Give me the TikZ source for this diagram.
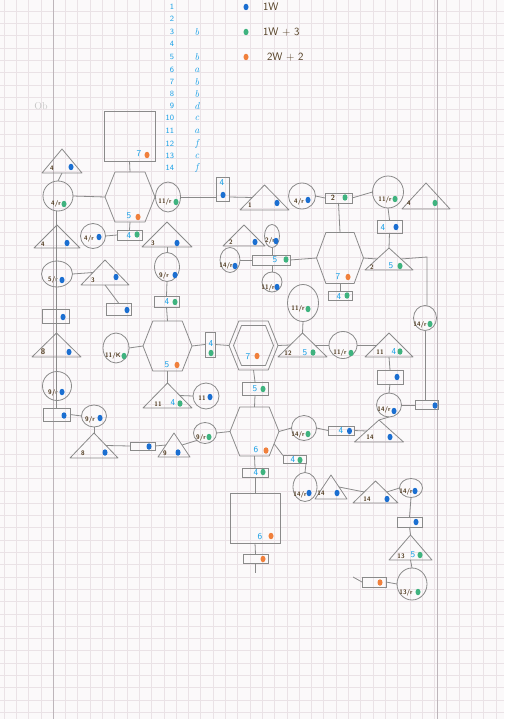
\documentclass[tikz,border=0pt]{standalone}
\usepackage{fontspec}
\usetikzlibrary{shapes.geometric,calc}
\definecolor{paper}{HTML}{FBF9FA}
\definecolor{gridc}{HTML}{EAE2E6}
\definecolor{marginc}{HTML}{BDB5BA}
\definecolor{pencilc}{HTML}{8A8A8A}
\definecolor{bluet}{HTML}{1AA0E6}
\definecolor{browntc}{HTML}{4F3A1E}
\definecolor{bdotc}{HTML}{1B6FD1}
\definecolor{gdotc}{HTML}{3FB37F}
\definecolor{odotc}{HTML}{F0803C}
\begin{document}
\begin{tikzpicture}[x=1pt,y=-1pt,
  pencil/.style={draw=pencilc, line width=0.8pt},
  nb/.style={inner sep=0pt, outer sep=0pt},
  box/.style={nb, rectangle, pencil},
  circ/.style={nb, ellipse, pencil},
  tri/.style={nb, append after command={\pgfextra{\let\LN\tikzlastnode
     \draw[pencil,line join=round] (\LN.north) -- (\LN.south east) -- (\LN.south west) -- cycle;}}},
  hexa/.style={nb, append after command={\pgfextra{\let\LN\tikzlastnode
     \draw[pencil,line join=round] (\LN.west) -- ($(\LN.north)!0.6!(\LN.north west)$) -- ($(\LN.north)!0.6!(\LN.north east)$) -- (\LN.east) -- ($(\LN.south)!0.6!(\LN.south east)$) -- ($(\LN.south)!0.6!(\LN.south west)$) -- cycle;}}},
  con/.style={pencil},
  gridl/.style={draw=gridc, line width=0.4pt},
  marg/.style={draw=marginc, line width=0.6pt},
  bt/.style={nb, text=bluet, font=\sffamily\fontsize{9}{9}\selectfont},
  bn/.style={nb, text=browntc, font=\sffamily\bfseries\fontsize{6.5}{6.5}\selectfont},
  lt/.style={nb, text=bluet, font=\itshape\fontsize{10}{10}\selectfont},
  kt/.style={nb, anchor=west, text=browntc, font=\sffamily\fontsize{11}{11}\selectfont},
  bd/.style={nb, ellipse, fill=bdotc, minimum width=5pt, minimum height=6.5pt},
  gd/.style={bd, fill=gdotc},
  od/.style={bd, fill=odotc},
]
\fill[paper] (0,0) rectangle (504,719);
\useasboundingbox (0,0) rectangle (504,719);
\foreach \i in {0,...,40} \draw[gridl] ({3.8+12.3*\i},0) -- ({3.8+12.3*\i},719);
\foreach \j in {0,...,58} \draw[gridl] (0,{11+12.3*\j}) -- (504,{11+12.3*\j});
\draw[marg] (53,0) -- (53,719);
\draw[marg] (437,0) -- (437,719);

% legend
\foreach \n/\yy in {1/7,2/19,3/32,4/44,5/57,6/70,7/82,8/94,9/106,10/118,11/131,12/144,13/156,14/168}
  \node[bt, anchor=east, font=\sffamily\fontsize{8}{8}\selectfont] (num\n) at (174,\yy) {\n};
\foreach \n/\yy/\l in {3/32/b,5/57/b,6/70/a,7/82/b,8/94/b,9/106/d,10/118/c,11/131/a,12/144/f,13/156/c,14/168/f}
  \node[lt] (let\n) at (197,\yy) {\l};
\node[bd] (key1) at (246,7) {};
\node[gd] (key2) at (246,32) {};
\node[od] (key3) at (246,57) {};
\node[kt] (keyt1) at (263,7) {1W};
\node[kt] (keyt2) at (263,32) {1W + 3};
\node[kt] (keyt3) at (267,57) {2W + 2};
\node[nb, text=gray!45, font=\fontsize{10}{10}\selectfont] (ob) at (41,106) {Ob};

% top-left cluster
\node[box, minimum width=51, minimum height=50] (s1) at (129.5,136) {};
\node[bt] (s1n) at (139,154) {7}; \node[od] (s1d) at (147,155) {};
\node[hexa, minimum width=50, minimum height=50] (h1) at (130,197) {};
\node[bt] (h1n) at (129,216) {5}; \node[od] (h1d) at (138,217) {};
\node[tri, minimum width=40, minimum height=24] (t1) at (62,161) {};
\node[bn] (t1n) at (52,168) {4}; \node[bd] (t1d) at (71,167) {};
\node[circ, minimum width=30, minimum height=30] (c1) at (58,196) {};
\node[bn] (c1n) at (56,204) {4/r}; \node[gd] (c1d) at (64,204) {};
\node[tri, minimum width=46, minimum height=23] (t2) at (57,236.5) {};
\node[bn] (t2n) at (43,244) {4}; \node[bd] (t2d) at (67,243) {};
\node[circ, minimum width=25, minimum height=25] (c2) at (93,236) {};
\node[bn] (c2n) at (89,239) {4/r}; \node[bd] (c2d) at (99,237) {};
\node[box, minimum width=25, minimum height=10] (b1) at (129.5,235) {};
\node[bt] (b1n) at (129,235.5) {4}; \node[gd] (b1d) at (137,234.5) {};
\node[circ, minimum width=25, minimum height=30] (c4) at (168,197) {};
\node[bn] (c4n) at (165,202) {11/r}; \node[gd] (c4d) at (176,202) {};
\node[box, minimum width=13, minimum height=24] (b2) at (222.5,189) {};
\node[bt] (b2n) at (222,183) {4}; \node[bd] (b2d) at (223,195) {};
\node[tri, minimum width=49, minimum height=25] (t3) at (264.5,197.5) {};
\node[bn] (t3n) at (250,205) {1}; \node[bd] (t3d) at (277,203) {};
\node[circ, minimum width=27, minimum height=26] (c5) at (302,196) {};
\node[bn] (c5n) at (299,202) {4/r}; \node[bd] (c5d) at (308,200) {};
\node[box, minimum width=27, minimum height=10] (b3) at (338.5,198) {};
\node[bn, font=\sffamily\bfseries\fontsize{7.5}{7.5}\selectfont] (b3n) at (333,197.5) {2}; \node[gd] (b3d) at (345,197.5) {};
\node[circ, minimum width=31, minimum height=32] (c6) at (388,192) {};
\node[bn] (c6n) at (385,200) {11/r}; \node[gd] (c6d) at (395,199) {};
\node[tri, minimum width=48, minimum height=26] (t4) at (426,196) {};
\node[bn] (t4n) at (409,203) {4}; \node[gd] (t4d) at (435,203) {};
\node[hexa, minimum width=47, minimum height=51] (h2) at (340,258) {};
\node[bt] (h2n) at (338,277) {7}; \node[od] (h2d) at (348,277) {};
\node[box, minimum width=25, minimum height=13] (b4) at (389.5,226.5) {};
\node[bt] (b4n) at (383,228) {4}; \node[bd] (b4d) at (396,227) {};
\node[tri, minimum width=48, minimum height=22] (t5) at (389,259) {};
\node[bn] (t5n) at (372,267) {2}; \node[bt] (t5m) at (391,266) {5}; \node[gd] (t5d) at (400,266) {};
\coordinate (k5) at (427,257);
\node[circ, minimum width=23, minimum height=25] (c7) at (425,318) {};
\node[bn] (c7n) at (420,325) {14/r}; \node[gd] (c7d) at (430,324) {};
\node[box, minimum width=23, minimum height=9] (b10) at (426.5,405) {};
\node[bd] (b10d) at (435,405.5) {};

% cluster round box b5
\node[box, minimum width=38, minimum height=10] (b5) at (271,260) {};
\node[bt] (b5n) at (275,260) {5}; \node[gd] (b5d) at (286,259.5) {};
\node[circ, minimum width=15, minimum height=23] (c20) at (272,236) {};
\node[bn] (c20n) at (270,241) {2/r}; \node[bd] (c20d) at (276,241) {};
\node[tri, minimum width=42, minimum height=21] (t6) at (244,235.5) {};
\node[bn] (t6n) at (231,242) {2}; \node[bd] (t6d) at (255,242) {};
\node[circ, minimum width=20, minimum height=25] (c21) at (230,260) {};
\node[bn] (c21n) at (226,266) {14/r}; \node[bd] (c21d) at (235,266) {};
\node[circ, minimum width=20, minimum height=20] (c22) at (272,282) {};
\node[bn] (c22n) at (268,288) {11/r}; \node[bd] (c22d) at (277,287) {};
\node[circ, minimum width=31, minimum height=37] (c23) at (303,303) {};
\node[bn] (c23n) at (298,309) {11/r}; \node[gd] (c23d) at (308,309) {};
\node[box, minimum width=24, minimum height=8.5] (b6) at (340,296) {};
\node[bt] (b6n) at (339,296.5) {4}; \node[gd] (b6d) at (347,295.5) {};

% middle row
\node[hexa, minimum width=49, minimum height=49] (h3) at (253.5,345.5) {};
\node[hexa, minimum width=40, minimum height=40] (h3i) at (253.5,345.5) {};
\node[bt] (h3n) at (248,357) {7}; \node[od] (h3d) at (257,356) {};
\node[box, minimum width=10, minimum height=25] (b7) at (210,344.5) {};
\node[bt] (b7n) at (211,344) {4}; \node[gd] (b7d) at (211,353) {};
\node[tri, minimum width=49, minimum height=24] (t7) at (302.5,345) {};
\node[bn] (t7n) at (288,353) {12}; \node[bt] (t7m) at (305,352.5) {5}; \node[gd] (t7d) at (313,352.5) {};
\node[circ, minimum width=28, minimum height=27] (c8) at (343,345) {};
\node[bn] (c8n) at (340,353) {11/r}; \node[gd] (c8d) at (351,353) {};
\node[tri, minimum width=48, minimum height=24] (t8) at (389,345) {};
\node[bn] (t8n) at (380,352) {11}; \node[bt] (t8m) at (394,351.5) {4}; \node[gd] (t8d) at (400,351.5) {};
\node[box, minimum width=26, minimum height=14] (b8) at (390,377) {};
\node[bd] (b8d) at (397,377) {};
\node[circ, minimum width=25, minimum height=24] (c9) at (389,405) {};
\node[bn] (c9n) at (384,410) {14/r}; \node[bd] (c9d) at (394,411) {};
\node[tri, minimum width=49, minimum height=22] (t9) at (379,431) {};
\node[bn] (t9n) at (370,437) {14}; \node[bd] (t9d) at (390,437) {};
\node[box, minimum width=26, minimum height=9] (b9) at (341,430.5) {};
\node[bt] (b9n) at (341,431) {4}; \node[bd] (b9d) at (349.5,431) {};
\node[circ, minimum width=25, minimum height=25] (c10) at (304,428) {};
\node[bn] (c10n) at (298,435) {14/r}; \node[gd] (c10d) at (308,434) {};
\node[box, minimum width=26, minimum height=13] (b11) at (255,388.5) {};
\node[bt] (b11n) at (255,389) {5}; \node[gd] (b11d) at (263,389) {};
\node[hexa, minimum width=49, minimum height=49] (h4) at (254.5,431.5) {};
\node[bt] (h4n) at (256,450) {6}; \node[od] (h4d) at (266,450.5) {};
\coordinate (h4br) at ($(h4.south)!0.6!(h4.south east)$);
\node[box, minimum width=23, minimum height=8] (b12) at (294.5,459.5) {};
\node[bt] (b12n) at (293,460) {4}; \node[gd] (b12d) at (300,460) {};
\node[circ, minimum width=24, minimum height=29] (c11) at (305,487) {};
\node[bn] (c11n) at (300,495) {14/r}; \node[bd] (c11d) at (309,493) {};
\node[tri, minimum width=32, minimum height=24] (t10) at (331,487) {};
\node[bn] (t10n) at (321,493) {14}; \node[bd] (t10d) at (337,493) {};
\node[tri, minimum width=45, minimum height=22] (t11) at (375.5,492) {};
\node[bn] (t11n) at (367,499) {14}; \node[bd] (t11d) at (387,499) {};
\node[circ, minimum width=23, minimum height=19] (c12) at (411,488) {};
\node[bn] (c12n) at (406,492) {14/r}; \node[bd] (c12d) at (415,491) {};
\node[box, minimum width=25, minimum height=10] (b13) at (409.5,522) {};
\node[bd] (b13d) at (416,522) {};
\node[tri, minimum width=43, minimum height=25] (t12) at (410.5,547.5) {};
\node[bn] (t12n) at (401,556) {13}; \node[bt] (t12m) at (413,555) {5}; \node[gd] (t12d) at (420,555) {};
\node[circ, minimum width=30, minimum height=32] (c13) at (412,584) {};
\node[bn] (c13n) at (406,593) {13/r}; \node[gd] (c13d) at (418,592) {};
\node[box, minimum width=24, minimum height=10] (b14) at (374,582) {};
\node[od] (b14d) at (380,582.5) {};
\coordinate (k14) at (353,577);

\node[box, minimum width=26, minimum height=9] (b15) at (255,472.5) {};
\node[bt] (b15n) at (256,473) {4}; \node[gd] (b15d) at (263,472) {};
\node[box, minimum width=50, minimum height=50] (s2) at (255,518) {};
\node[bt] (s2n) at (260,537) {6}; \node[od] (s2d) at (271,536) {};
\node[box, minimum width=25, minimum height=9] (b16) at (255.5,558.5) {};
\node[od] (b16d) at (263,559) {};
\coordinate (k16) at (255.5,573);

\node[circ, minimum width=23, minimum height=21] (c14) at (205,433) {};
\node[bn] (c14n) at (201,438) {9/r}; \node[gd] (c14d) at (209,437) {};
\node[tri, minimum width=32, minimum height=24] (t13) at (174,445) {};
\node[bn] (t13n) at (165,453) {9}; \node[bd] (t13d) at (178,452.5) {};
\node[box, minimum width=25, minimum height=8] (b17) at (142.5,446) {};
\node[bd] (b17d) at (149,446.5) {};
\node[tri, minimum width=48, minimum height=25] (t14) at (94,445.5) {};
\node[bn] (t14n) at (83,453) {8}; \node[bd] (t14d) at (105,452.5) {};
\node[circ, minimum width=25, minimum height=22] (c15) at (94,416) {};
\node[bn] (c15n) at (90,420) {9/r}; \node[bd] (c15d) at (100,418) {};
\node[box, minimum width=27, minimum height=13] (b18) at (56.5,414.5) {};
\node[bd] (b18d) at (64,415.5) {};
\node[circ, minimum width=29, minimum height=29] (c16) at (57,386) {};
\node[bn] (c16n) at (53,393) {9/r}; \node[bd] (c16d) at (62,392) {};
\node[tri, minimum width=49, minimum height=24] (t16) at (56.5,345) {};
\node[bn, font=\sffamily\bfseries\fontsize{8}{8}\selectfont] (t16n) at (43,352) {8}; \node[bd] (t16d) at (69,352) {};
\node[box, minimum width=27, minimum height=14] (b20) at (55.5,316) {};
\node[bd] (b20d) at (63,317) {};
\node[circ, minimum width=31, minimum height=26] (c3) at (57,274) {};
\node[bn] (c3n) at (53,280) {5/r}; \node[bd] (c3d) at (62,280) {};
\node[tri, minimum width=48, minimum height=25] (t15) at (105,272.5) {};
\node[bn] (t15n) at (93,280) {3}; \node[bd] (t15d) at (116,277) {};
\node[box, minimum width=25, minimum height=12] (b19) at (118.5,309) {};
\node[bd] (b19d) at (127,310) {};
\coordinate (v1) at (56,211);
\coordinate (v2) at (56,408);

\node[tri, minimum width=50, minimum height=25] (t18) at (167,234.5) {};
\node[bn] (t18n) at (153,243) {3}; \node[bd] (t18d) at (177,243) {};
\node[circ, minimum width=25, minimum height=29] (c18) at (167,267) {};
\node[bn] (c18n) at (164,276) {9/r}; \node[bd] (c18d) at (175,275) {};
\node[box, minimum width=25, minimum height=11] (b21) at (166.5,301.5) {};
\node[bt] (b21n) at (167,302) {4}; \node[gd] (b21d) at (175,302) {};
\node[hexa, minimum width=49, minimum height=50] (h5) at (167.5,346) {};
\node[bt] (h5n) at (167,365) {5}; \node[od] (h5d) at (177,365) {};
\node[tri, minimum width=49, minimum height=25] (t17) at (167.5,395.5) {};
\node[bn] (t17n) at (158,404) {11}; \node[bt] (t17m) at (173,403) {4}; \node[gd] (t17d) at (180,403.5) {};
\node[circ, minimum width=26, minimum height=26] (c19) at (206,396) {};
\node[bn] (c19n) at (202,398) {11}; \node[bd] (c19d) at (210,397) {};
\node[circ, minimum width=26, minimum height=30] (c17) at (116,348) {};
\node[bn] (c17n) at (113,356) {11/K}; \node[gd] (c17d) at (124,356) {};

% connectors
\draw[con] (s1.south) -- (h1.north);
\draw[con] (h1.south) -- (b1.north);
\draw[con] (c2.east) -- (b1.west);
\draw[con] (c1.east) -- (h1.west);
\draw[con] (h1.east) -- (c4.west);
\draw[con] (c4.east) -- (c4.east -| b2.west);
\draw[con] (b2.east |- c4.east) -- ($(t3.north)!0.5!(t3.south west)$);
\draw[con] (c5.east) -- (b3.west);
\draw[con] (b3.east) -- (c6.west);
\draw[con] (b3.south) -- (h2.north);
\draw[con] (c6.south) -- (b4.north);
\draw[con] (b4.south) -- (t5.north);
\draw[con] (h2.east) -- ($(t5.north)!0.5!(t5.south west)$);
\draw[con] ($(t5.north)!0.5!(t5.south east)$) -- (k5) -- (k5 |- c7.north);
\draw[con] (c7.south) -- (c7.south |- b10.north);
\draw[con] (b10.west) -- (c9.east);
\draw[con] (c21.east) -- (b5.west);
\draw[con] (c20.south) -- (c20.south |- b5.north);
\draw[con] (c22.north |- b5.south) -- (c22.north);
\draw[con] (b5.east) -- (h2.west);
\draw[con] (c23.south) -- (t7.north);
\draw[con] (h2.south) -- (b6.north);
\draw[con] (h5.east) -- (b7.west);
\draw[con] (b7.east) -- (h3.west);
\draw[con] (h3.east) -- ($(t7.north)!0.5!(t7.south west)$);
\draw[con] ($(t7.north)!0.5!(t7.south east)$) -- (c8.west);
\draw[con] (c8.east) -- ($(t8.north)!0.5!(t8.south west)$);
\draw[con] (t8.south) -- (b8.north);
\draw[con] (b8.south) -- (c9.north);
\draw[con] (c9.south) -- (t9.north);
\draw[con] (c10.east) -- (b9.west);
\draw[con] (b9.east) -- ($(t9.north)!0.5!(t9.south west)$);
\draw[con] (h3.south) -- (b11.north);
\draw[con] (b11.south) -- (h4.north);
\draw[con] (h4.east) -- (c10.west);
\draw[con] ($(h4.east)!0.5!(h4br)$) -- (b12.north west);
\draw[con] (b12.south east) -- (c11.north);
\draw[con] ($(t10.north)!0.5!(t10.south east)$) -- ($(t11.north)!0.5!(t11.south west)$);
\draw[con] ($(t11.north)!0.5!(t11.south east)$) -- (c12.west);
\draw[con] (c12.south) -- (b13.north);
\draw[con] (b13.south) -- (t12.north);
\draw[con] (t12.south) -- (c13.north);
\draw[con] (k14) -- (b14.west);
\draw[con] (b14.east) -- (c13.west);
\draw[con] (h4.south) -- (b15.north);
\draw[con] (b15.south) -- (s2.north);
\draw[con] (s2.south) -- (b16.north);
\draw[con] (b16.south) -- (k16);
\draw[con] (h4.west) -- (c14.east);
\draw[con] (c14.south west) -- ($(t13.north)!0.5!(t13.south east)$);
\draw[con] ($(t13.north)!0.5!(t13.south west)$) -- (b17.east);
\draw[con] (b17.west) -- ($(t14.north)!0.5!(t14.south east)$);
\draw[con] (t14.north) -- (c15.south);
\draw[con] (b18.east) -- (c15.west);
\draw[con] (t1.south) -- (c1.north);
\draw[con] (v1) -- (v2);
\draw[con] (c3.east) -- ($(t15.north)!0.5!(t15.south west)$);
\draw[con] (t15.south) -- (b19.north);
\draw[con] (t18.south) -- (c18.north);
\draw[con] (c18.south) -- (b21.north);
\draw[con] (b21.south) -- (h5.north);
\draw[con] (h5.south) -- (t17.north);
\draw[con] ($(t17.north)!0.5!(t17.south east)$) -- (c19.west);
\draw[con] (c17.east) -- (h5.west);
\end{tikzpicture}
\end{document}
